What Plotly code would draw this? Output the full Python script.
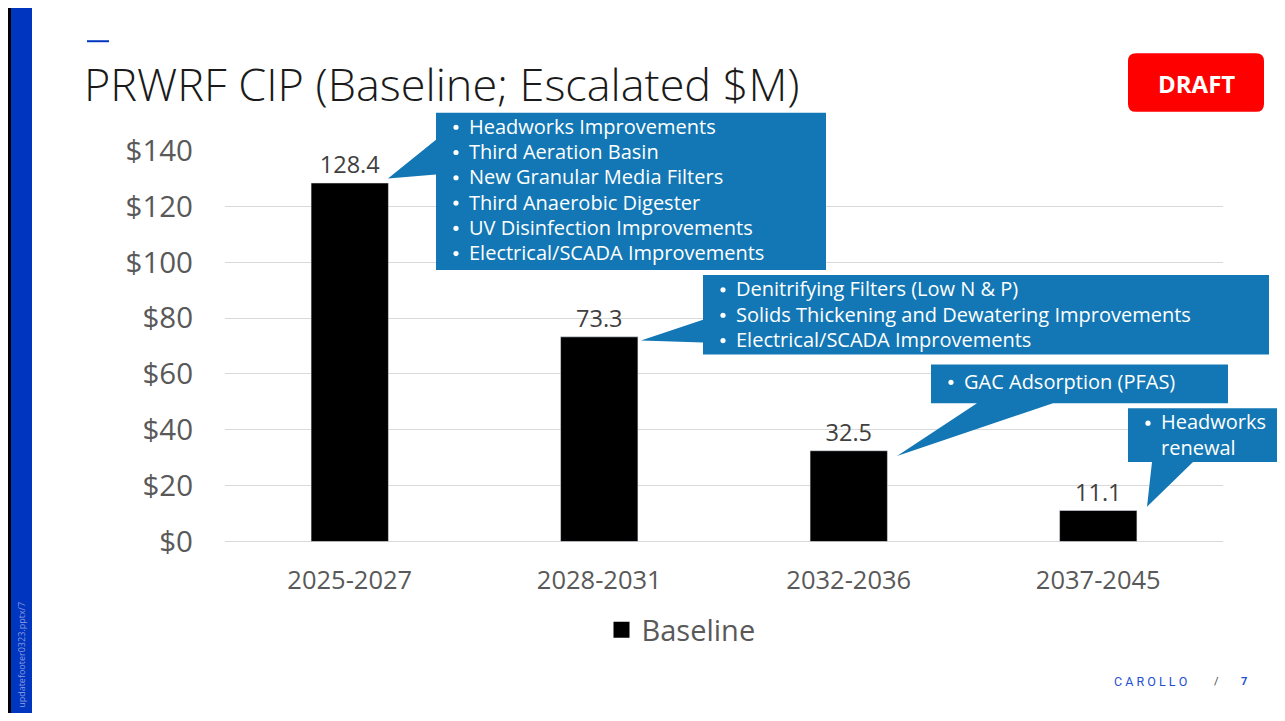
import plotly.graph_objects as go

# reference page is 1285x721; the figure sits inside the page's 8px body margin
PAGE_W, PAGE_H = 1285, 721
OFF = 8
W, H = PAGE_W - 2 * OFF, PAGE_H - 2 * OFF
# observed vertical squeeze of the photographed page about its middle
SQ, CY = 0.947, 361.0

categories = ["2025-2027", "2028-2031", "2032-2036", "2037-2045"]
baseline = [128.4, 73.3, 32.5, 11.1]
y_ticks = [0, 20, 40, 60, 80, 100, 120, 140]

callout1 = ["Headworks Improvements", "Third Aeration Basin", "New Granular Media Filters",
            "Third Anaerobic Digester", "UV Disinfection Improvements", "Electrical/SCADA Improvements"]
callout2 = ["Denitrifying Filters (Low N & P)", "Solids Thickening and Dewatering Improvements",
            "Electrical/SCADA Improvements"]
callout3 = ["GAC Adsorption (PFAS)"]
callout4 = ["Headworks", "renewal"]

TITLE = "PRWRF CIP (Baseline; Escalated $M)"
BLUE_CALL = "#1277B4"
FONT = "Open Sans, Noto Sans, sans-serif"


def X(px):
    return (px - OFF) / W


def Y(py):
    page = CY + (py - CY) / SQ
    return 1 - (page - OFF) / H


def poly(points):
    return "M " + " L ".join(f"{X(a):.5f},{Y(b):.5f}" for a, b in points) + " Z"


def rounded(x0, y0, x1, y1, r):
    p = f"M {X(x0 + r):.5f},{Y(y0):.5f} L {X(x1 - r):.5f},{Y(y0):.5f} "
    p += f"Q {X(x1):.5f},{Y(y0):.5f} {X(x1):.5f},{Y(y0 + r):.5f} "
    p += f"L {X(x1):.5f},{Y(y1 - r):.5f} Q {X(x1):.5f},{Y(y1):.5f} {X(x1 - r):.5f},{Y(y1):.5f} "
    p += f"L {X(x0 + r):.5f},{Y(y1):.5f} Q {X(x0):.5f},{Y(y1):.5f} {X(x0):.5f},{Y(y1 - r):.5f} "
    p += f"L {X(x0):.5f},{Y(y0 + r):.5f} Q {X(x0):.5f},{Y(y0):.5f} {X(x0 + r):.5f},{Y(y0):.5f} Z"
    return p


fig = go.Figure()
fig.add_trace(go.Bar(
    x=categories, y=baseline, name="Baseline", marker_color="black",
    width=0.31, text=[f"{v:.1f}" for v in baseline], textposition="outside",
    textfont=dict(size=23.5, color="#404040", family=FONT), cliponaxis=False,
    showlegend=False,
))
fig.add_trace(go.Scatter(
    x=[None], y=[None], mode="markers", name="Baseline",
    marker=dict(symbol="square", size=19, color="black"), showlegend=True,
))

shapes = []
rect = lambda x0, y0, x1, y1, c: dict(type="rect", xref="paper", yref="paper", x0=X(x0), x1=X(x1),
                                      y0=Y(y0), y1=Y(y1), fillcolor=c, line_width=0, layer="above")
shapes.append(rect(0, 0, 1285, 4, "black"))
shapes.append(rect(0, 718, 1285, 721, "black"))
shapes.append(rect(8, 0, 11, 721, "black"))
shapes.append(rect(11, 4, 32, 718, "#0035BF"))
shapes.append(rect(87, 37, 109, 39, "#0035BF"))
shapes.append(dict(type="path", xref="paper", yref="paper", layer="above", fillcolor="#FF0000", line_width=0,
                   path=rounded(1128, 50, 1264, 109, 8)))
for pts in [
    [(436, 110), (826, 110), (826, 268), (436, 268), (436, 172), (388, 176), (436, 137)],
    [(703, 273), (1269, 273), (1269, 353), (703, 353), (703, 341), (641, 339), (703, 318)],
    [(931, 363), (1228, 363), (1228, 402), (1053, 402), (897, 455), (977, 402), (931, 402)],
    [(1128, 407), (1285, 407), (1285, 461), (1193, 461), (1147, 506), (1152, 461), (1128, 461)],
]:
    shapes.append(dict(type="path", xref="paper", yref="paper", layer="above", fillcolor=BLUE_CALL,
                       line_width=0, path=poly(pts)))


def bullet(x, y):
    shapes.append(dict(type="circle", xref="paper", yref="paper", layer="above", fillcolor="white",
                       line_width=0, x0=X(x - 2.6), x1=X(x + 2.6), y0=Y(y - 1.6), y1=Y(y + 3.6)))


ann = []


def txt(x, y, s, size, color, anchor="left", family=FONT, weight=None, align="left"):
    f = dict(size=size, color=color, family=family)
    if weight:
        f["weight"] = weight
    ann.append(dict(x=X(x), y=Y(y), xref="paper", yref="paper", text=s, showarrow=False,
                    xanchor=anchor, yanchor="middle", font=f, align=align))


txt(82, 81, TITLE, 45, "#1a1a1a", weight=300)
txt(1196, 80, "<b>DRAFT</b>", 24, "white", anchor="center")

for i, s in enumerate(callout1):
    y = 123.5 + i * 25.4
    bullet(456, y)
    txt(467, y, s, 20, "white")
for i, s in enumerate(callout2):
    y = 287 + i * 25.5
    bullet(723, y)
    txt(734, y, s, 20, "white")
for s in callout3:
    bullet(951, 380)
    txt(962, 380, s, 20, "white")
bullet(1148, 421)
txt(1159, 433, "<br>".join(callout4), 20, "white")

ann.append(dict(x=X(22), y=Y(655), xref="paper", yref="paper", text="updatefooter0323.pptx/7",
                showarrow=False, textangle=-90, xanchor="center", yanchor="middle",
                font=dict(size=9, color="#8A9BE0", family=FONT)))
txt(1112, 682, "C A R O L L O", 12.5, "#1F4FD1", family="Roboto, sans-serif")
txt(1212, 682, "/", 11, "#444444", family="Roboto, sans-serif")
txt(1239, 682, "<b>7</b>", 11, "#1F4FD1", family="Roboto, sans-serif")

fig.update_layout(
    width=W, height=H, autosize=False,
    margin=dict(l=0, r=0, t=0, b=0),
    paper_bgcolor="white", plot_bgcolor="white",
    font=dict(family=FONT, color="#595959"),
    xaxis=dict(domain=[X(225), X(1223)], type="category", showgrid=False, showline=False,
               ticks="", tickfont=dict(size=25.5, color="#595959"), ticklabelstandoff=21),
    yaxis=dict(domain=[Y(541), Y(148)], range=[0, 140], tickvals=y_ticks,
               ticktext=[f"${v}" for v in y_ticks], showgrid=True, gridcolor="#D9D9D9",
               gridwidth=1, zeroline=True, zerolinecolor="#D9D9D9", zerolinewidth=1,
               ticks="", tickfont=dict(size=29.5, color="#595959"), ticklabelstandoff=31),
    legend=dict(orientation="h", x=X(681), y=Y(630), xanchor="center", yanchor="middle",
                font=dict(size=29, color="#595959", family=FONT), bgcolor="rgba(0,0,0,0)"),
    shapes=shapes, annotations=ann,
)

fig.write_html("out.html", config={"responsive": False})
